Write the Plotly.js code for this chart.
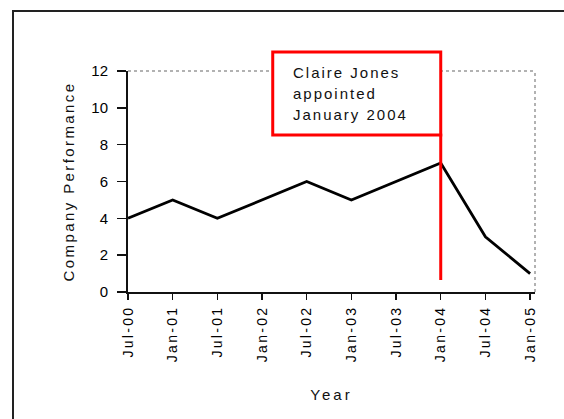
<!DOCTYPE html>
<html>
<head>
<meta charset="utf-8">
<script src="https://cdn.plot.ly/plotly-3.0.1.min.js"></script>
<style>
  html, body { margin: 0; padding: 0; background: #fff; overflow: hidden; }
  #frame { position: absolute; left: 12px; top: 10px; width: 600px; height: 460px;
           border: 2px solid #222; box-sizing: border-box; }
  #chart { position: absolute; left: 0; top: 0; width: 564px; height: 419px; }
  /* the old spreadsheet look: widely tracked lettering */
  #chart g.xtick text { letter-spacing: 2.3px; }
  #chart text.ytitle { letter-spacing: 2.4px; }
  #chart text.xtitle { letter-spacing: 3px; }
  #chart g.annotation text { letter-spacing: 2px; }
</style>
</head>
<body>
<div id="frame"></div>
<div id="chart"></div>
<script>
// Half-yearly periods and the performance score for each
const periods = ['Jul-00', 'Jan-01', 'Jul-01', 'Jan-02', 'Jul-02', 'Jan-03', 'Jul-03', 'Jan-04', 'Jul-04', 'Jan-05'];
const performance = [4, 5, 4, 5, 6, 5, 6, 7, 3, 1];
const yTicks = [0, 2, 4, 6, 8, 10, 12];

// Event marker: the period of the appointment and the note shown with it
const eventPeriod = 'Jan-04';
const eventNote = ['Claire Jones', 'appointed', 'January 2004'];

const W = 564, H = 419;
const M = { l: 128, r: 29, t: 71, b: 127 };
const plotW = W - M.l - M.r;
const plotH = H - M.t - M.b;

const xIdx = periods.map((_, i) => i);
const eventIdx = periods.indexOf(eventPeriod);
const xMax = periods.length - 1 + 0.11;

// note box: right edge sits on the event line
const eventPaperX = eventIdx / xMax;
const boxWidthPx = 168;
const boxTopPx = 52, boxBottomPx = 135;   // measured from the top of the page
const pyToPaper = (py) => (H - M.b - py) / plotH;
const boxX0 = eventPaperX - boxWidthPx / plotW;
const boxY1 = pyToPaper(boxTopPx);
const boxY0 = pyToPaper(boxBottomPx);

const trace = {
  x: xIdx,
  y: performance,
  type: 'scatter',
  mode: 'lines',
  line: { color: '#000', width: 2.8 },
  hoverinfo: 'skip'
};

const arial = 'Liberation Sans, Arial, sans-serif';

const noteAnnotations = eventNote.map((line, i) => ({
  xref: 'paper', yref: 'paper',
  x: boxX0, y: boxY1,
  xanchor: 'left', yanchor: 'top',
  xshift: 19, yshift: -(11 + 21 * i),
  showarrow: false,
  text: line,
  align: 'left',
  borderpad: 0,
  font: { family: arial, size: 15, color: '#111' }
}));

const layout = {
  width: W,
  height: H,
  margin: M,
  paper_bgcolor: 'rgba(0,0,0,0)',
  plot_bgcolor: 'rgba(0,0,0,0)',
  showlegend: false,
  xaxis: {
    range: [0, xMax],
    tickmode: 'array',
    tickvals: xIdx,
    ticktext: periods,
    tickangle: -90,
    ticks: 'outside',
    ticklen: 6,
    tickwidth: 1.5,
    tickcolor: '#111',
    showline: true,
    linecolor: '#111',
    linewidth: 2,
    showgrid: false,
    zeroline: false,
    tickfont: { family: arial, size: 14, color: '#000' },
    title: { text: 'Year', font: { family: arial, size: 15, color: '#111' }, standoff: 42 }
  },
  yaxis: {
    range: [0, 12],
    tickmode: 'array',
    tickvals: yTicks,
    ticks: 'outside',
    ticklen: 9,
    tickwidth: 1.5,
    tickcolor: '#111',
    showline: true,
    linecolor: '#111',
    linewidth: 2,
    showgrid: false,
    zeroline: false,
    ticklabelstandoff: 6,
    tickfont: { family: arial, size: 15, color: '#000' },
    title: { text: 'Company Performance', font: { family: arial, size: 15, color: '#111' }, standoff: 13 }
  },
  shapes: [
    // dotted top and right edges of the plot area
    { type: 'line', xref: 'paper', yref: 'paper', x0: 0, x1: 1, y0: 1, y1: 1,
      line: { color: '#999', width: 1.5, dash: 'dot' } },
    { type: 'line', xref: 'paper', yref: 'paper', x0: 1, x1: 1, y0: 0, y1: 1,
      line: { color: '#999', width: 1.5, dash: 'dot' } },
    // red marker at the appointment date
    { type: 'line', xref: 'x', yref: 'y', x0: eventIdx, x1: eventIdx, y0: 0.65, y1: 8.6,
      line: { color: '#ff0000', width: 3 } },
    // note box
    { type: 'rect', xref: 'paper', yref: 'paper', x0: boxX0, x1: eventPaperX, y0: boxY0, y1: boxY1,
      fillcolor: '#fff', line: { color: '#ff0000', width: 3 } }
  ],
  annotations: noteAnnotations
};

Plotly.newPlot('chart', [trace], layout, { staticPlot: true, displayModeBar: false });
</script>
</body>
</html>
